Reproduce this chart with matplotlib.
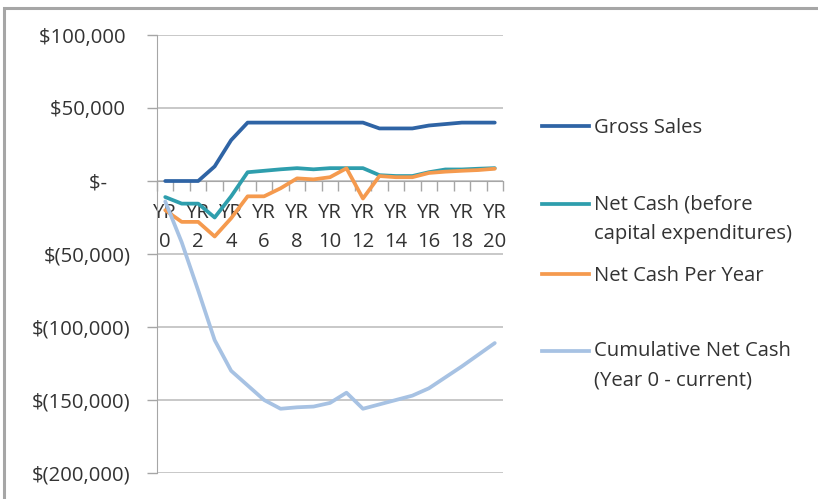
import matplotlib
matplotlib.use("Agg")
import matplotlib.pyplot as plt
from matplotlib.lines import Line2D
from matplotlib.patches import Rectangle
from matplotlib.ticker import FixedLocator
from matplotlib.legend_handler import HandlerLine2D

plt.rcParams['font.family'] = ['Open Sans', 'DejaVu Sans']

# ---- data ----
years = list(range(21))
year_labels = ["YR\n%d" % y for y in range(0, 21, 2)]
gross_sales = [0, 0, 0, 10000, 28000, 40000, 40000, 40000, 40000, 40000, 40000,
               40000, 40000, 36000, 36000, 36000, 38000, 39000, 40000, 40000, 40000]
net_cash_before = [-11000, -15500, -15500, -25000, -10500, 6000, 7000, 8000, 8800, 8000, 8800,
                   8800, 8800, 4000, 3400, 3400, 6000, 7900, 7900, 8400, 8800]
net_cash_year = [-20000, -28000, -28000, -38000, -25500, -10500, -10500, -5000, 1800, 1100, 2600,
                 8700, -12000, 3400, 2600, 2600, 5500, 6400, 7000, 7500, 8400]
cumulative = [-14000, -42000, -75000, -109000, -130000, -140000, -150000, -156000, -155000,
              -154500, -152000, -145000, -156000, -153000, -150000, -147000, -142000,
              -134500, -127000, -119000, -111000]
y_ticks = [100000, 50000, 0, -50000, -100000, -150000, -200000]
y_labels = ["$100,000 ", "$50,000 ", "$-\u2007\u2007", "$(50,000)", "$(100,000)",
            "$(150,000)", "$(200,000)"]

series_names = ["Gross Sales", "Net Cash (before\ncapital expenditures)",
                "Net Cash Per Year", "Cumulative Net Cash\n(Year 0 - current)"]
colors = ["#2F64A5", "#2E9EAD", "#F59A4E", "#A7C2E3"]

FS = 14.6
W, H = 818, 499
fig = plt.figure(figsize=(W / 100, H / 100), dpi=100)
fig.patch.set_facecolor("white")

# outer frame (top & left edges visible)
fig.patches.append(Rectangle((4 / W, -0.05), 1.1, (H - 7.5) / H + 0.05,
                             transform=fig.transFigure, fill=False,
                             edgecolor="#A6A6A6", linewidth=2.2))

ax = fig.add_axes([157 / W, 1 - 473 / H, (503 - 157) / W, (473 - 35) / H])
ax.set_xlim(-0.5, 20.5)
ax.set_ylim(-200000, 100000)

for vals, c, name in zip([gross_sales, net_cash_before, net_cash_year, cumulative],
                         colors, series_names):
    ax.plot(years, vals, color=c, linewidth=2.7, zorder=3, solid_capstyle="round",
            solid_joinstyle="round", label=name)

# y axis
ax.set_yticks(y_ticks)
ax.set_yticklabels(y_labels)
ax.yaxis.grid(True, color="#C4C4C4", linewidth=1.3)
ax.set_axisbelow(True)
ax.tick_params(axis="y", length=7, width=1, color="#A6A6A6", pad=12,
               labelsize=FS, labelcolor="#333333")

# x axis at zero
for s in ["top", "right"]:
    ax.spines[s].set_visible(False)
ax.spines["left"].set_color("#A6A6A6")
ax.spines["bottom"].set_position(("data", 0))
ax.spines["bottom"].set_color("#A6A6A6")
ax.xaxis.set_major_locator(FixedLocator([x - 0.5 for x in range(22)]))
ax.xaxis.set_minor_locator(FixedLocator(list(range(0, 21, 2))))
ax.set_xticklabels([], minor=False)
ax.set_xticklabels(year_labels, minor=True)
ax.tick_params(axis="x", which="major", length=7, width=1, color="#A6A6A6")
ax.tick_params(axis="x", which="minor", length=0, pad=16, labelsize=FS,
               labelcolor="#333333")
for t in ax.get_xticklabels(minor=True):
    t.set_linespacing(1.58)


class FirstLineHandler(HandlerLine2D):
    """Places the legend line at the first text line of a multi-line label."""
    def __init__(self, dy, **kw):
        super().__init__(**kw)
        self.dy = dy

    def create_artists(self, legend, orig_handle, xdescent, ydescent, width, height,
                       fontsize, trans):
        return super().create_artists(legend, orig_handle, xdescent,
                                       ydescent - 2 * self.dy, width, height,
                                       fontsize, trans)


# legend entries placed individually (uneven spacing as in reference)
entry_y = [128, 219, 276, 366]
lines = ax.get_lines()
for ln, name, yy in zip(lines, series_names, entry_y):
    nlines = name.count("\n") + 1
    dy = (nlines - 1) * 15.8 * 72 / 100
    h = Line2D([], [], color=ln.get_color(), linewidth=2.7)
    leg = fig.legend([h], [name],
                     loc="center left", bbox_to_anchor=(542 / W, 1 - yy / H),
                     frameon=False, fontsize=FS, handlelength=2.3, handletextpad=0.25,
                     borderpad=0, borderaxespad=0,
                     handler_map={h: FirstLineHandler(dy)})
    for t in leg.get_texts():
        t.set_linespacing(1.6)
        t.set_color("#333333")

fig.savefig("out.png", dpi=100, facecolor="white")
